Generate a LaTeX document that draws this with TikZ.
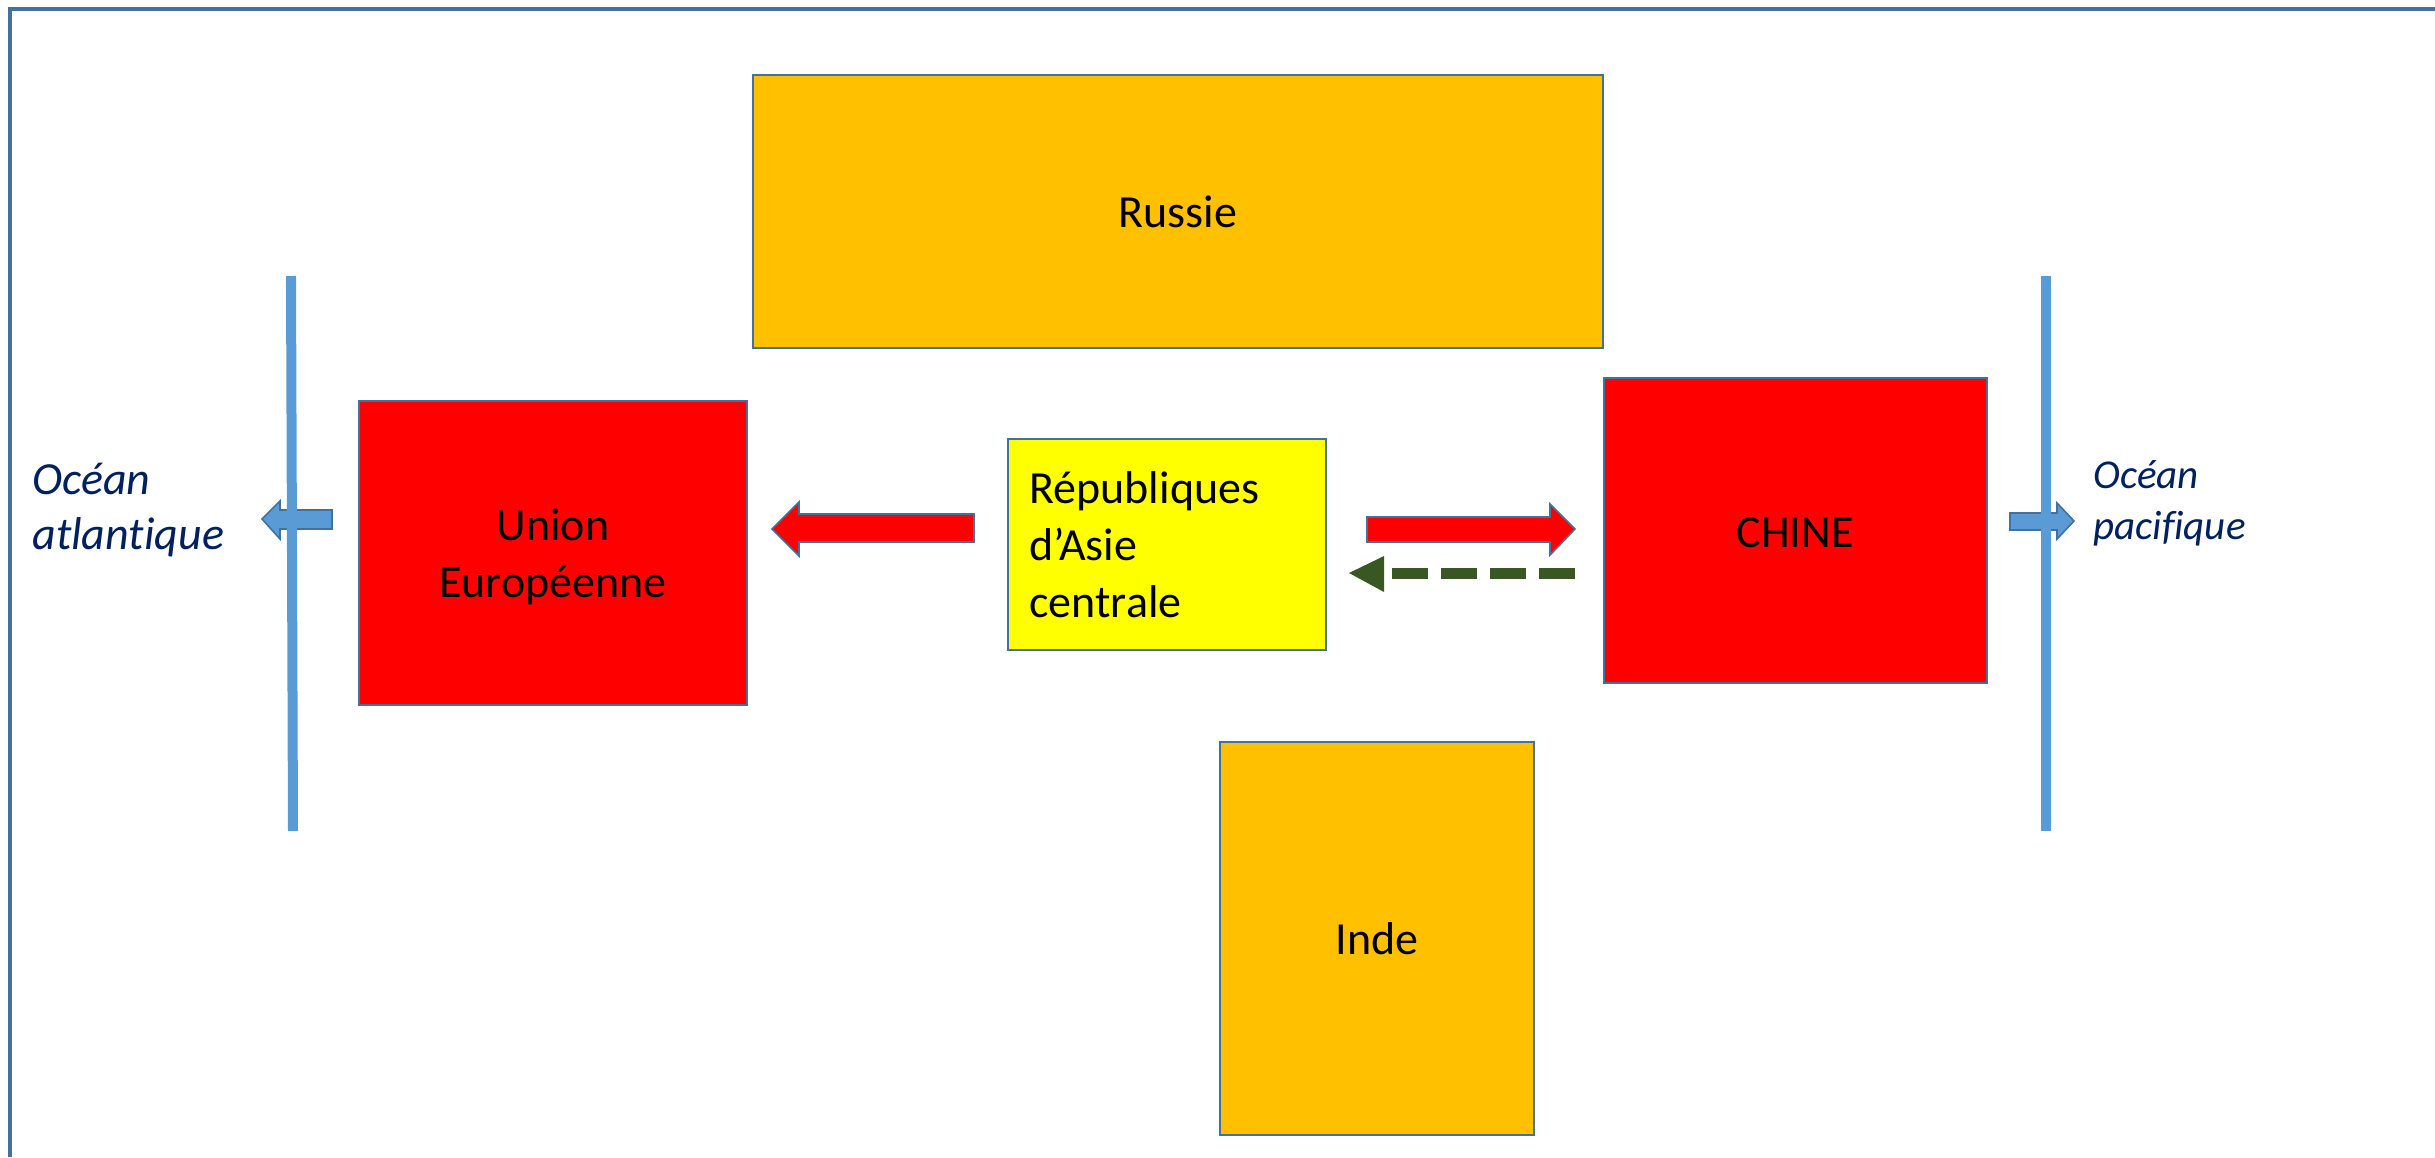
\documentclass[tikz,border=0pt]{standalone}
\usepackage{fontspec}
\setmainfont{Carlito}[Ligatures=NoCommon]
\definecolor{outl}{HTML}{41719C}
\definecolor{orng}{HTML}{FFC000}
\definecolor{sea}{HTML}{5B9BD5}
\definecolor{dgreen}{HTML}{385723}
\definecolor{navy}{HTML}{002060}
\definecolor{yel}{HTML}{FFFF00}
\definecolor{rd}{HTML}{FF0000}
\begin{document}
\begin{tikzpicture}[x=0.5pt,y=-0.5pt,
  box/.style={draw=outl, line width=1pt, inner sep=0pt, align=center,
    font=\fontsize{23}{28.5}\selectfont},
  blockred/.style={draw=outl, fill=rd, line width=0.8pt, line join=miter},
  blockblue/.style={draw=outl, fill=sea, line width=0.8pt, line join=miter},
  seaLine/.style={sea, line width=5pt},
  oceantxt/.style={anchor=base west, inner sep=0pt, align=left, text=navy}]
\useasboundingbox (0,0) rectangle (2435,1157);
\draw[outl, line width=1.8pt] (10,1157) -- (10,9) -- (2435,9);

% boxes
\node[box, fill=orng, minimum width=425pt, minimum height=136.5pt] (russie) at (1178,211.5) {Russie};
\node[box, fill=rd, minimum width=194pt, minimum height=152pt, text depth=0pt] (ue) at (553,553) {Union\\Européenne};
\node[box, fill=yel, minimum width=159pt, minimum height=105.5pt] (rac) at (1167,544.5) {};
\node[anchor=base west, inner sep=0pt, align=left, font=\fontsize{23}{28.5}\selectfont] (ractxt) at (1029,617) {Républiques\\d’Asie\\centrale};
\node[box, fill=rd, minimum width=191.5pt, minimum height=152.5pt] (chine) at (1795.5,530.5) {};
\node[font=\fontsize{23}{28.5}\selectfont, anchor=base, inner sep=0pt] (chinetxt) at (1795,547) {CHINE};
\node[box, fill=orng, minimum width=157pt, minimum height=196.5pt] (inde) at (1377,938.5) {Inde};

% block arrows
\draw[blockred] (772,529) -- (799,502) -- (799,514) -- (974,514) -- (974,542) -- (799,542) -- (799,556) -- cycle;
\draw[blockred] (1575,529) -- (1550,504) -- (1550,517) -- (1367,517) -- (1367,542) -- (1550,542) -- (1550,555) -- cycle;
\draw[dgreen, line width=5.5pt, dash pattern=on 18pt off 6.5pt] (1575,573) -- (1384,573);
\fill[dgreen] (1349,573) -- (1384,556) -- (1384,592) -- cycle;

\draw[blockblue] (262,519) -- (280,501) -- (280,510) -- (332,510) -- (332,529) -- (280,529) -- (280,539) -- cycle;
\draw[blockblue] (2074,521) -- (2057,503) -- (2057,513) -- (2010,513) -- (2010,530) -- (2057,530) -- (2057,539) -- cycle;

% coast lines
\draw[seaLine] (291,276) -- (293,831);
\draw[seaLine] (2046,276) -- (2046,831);

% ocean labels
\node[oceantxt, font=\itshape\fontsize{23}{27.5}\selectfont] (atl) at (32,549) {Océan\\atlantique};
\node[oceantxt, font=\itshape\fontsize{20.5}{25.5}\selectfont] (pac) at (2093,539) {Océan\\pacifique};
\end{tikzpicture}
\end{document}
